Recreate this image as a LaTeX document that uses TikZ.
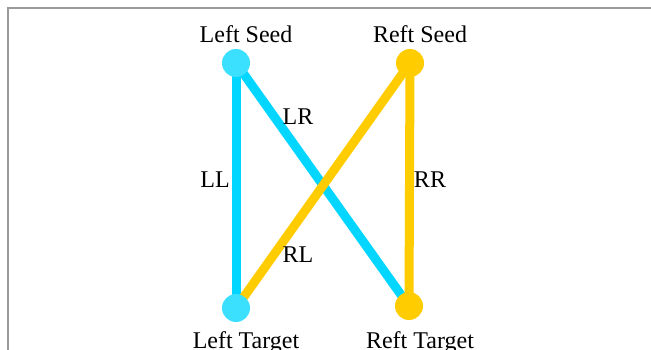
\documentclass[tikz,border=0pt]{standalone}
\usepackage{fontspec}
\setmainfont{Liberation Serif}
\definecolor{cyanline}{HTML}{00D6FF}
\definecolor{cyandot}{HTML}{3CE0FF}
\definecolor{gold}{HTML}{FFCC00}
\definecolor{framegray}{HTML}{9A9A9A}
\begin{document}
\begin{tikzpicture}[x=1pt,y=-1pt,
  dotc/.style={circle,fill=cyandot,minimum size=28pt,inner sep=0pt},
  dotg/.style={circle,fill=gold,minimum size=28pt,inner sep=0pt},
  cyanedge/.style={draw=cyanline,line width=9pt},
  goldedge/.style={draw=gold,line width=9pt},
  lbl/.style={font=\fontsize{24}{24}\selectfont,inner sep=0pt,anchor=base}]
\useasboundingbox (0,0) rectangle (651,350);
\fill[white] (0,0) rectangle (651,350);
\draw[framegray,line width=1.5pt] (8,350) -- (8,8) -- (651,8);
% coordinates of node centres
\coordinate (ls) at (236,63);
\coordinate (rs) at (410,63);
\coordinate (lt) at (236,308);
\coordinate (rt) at (409,306);
% edges
\draw[cyanedge] (ls) -- (lt);
\draw[cyanedge] (ls) -- (rt);
\draw[goldedge] (rs) -- (rt);
\draw[goldedge] (rs) -- (lt);
% dots
\node[dotc] (LS) at (ls) {};
\node[dotg] (RS) at (rs) {};
\node[dotc] (LT) at (lt) {};
\node[dotg] (RT) at (rt) {};
% node labels
\node[lbl] (tLS) at (246,43) {Left Seed};
\node[lbl] (tRS) at (420,43) {Reft Seed};
\node[lbl] (tLT) at (246,348) {Left Target};
\node[lbl] (tRT) at (420,348) {Reft Target};
% edge labels
\node[lbl] (eLL) at (215,188) {LL};
\node[lbl] (eLR) at (298,125) {LR};
\node[lbl] (eRR) at (430,188) {RR};
\node[lbl] (eRL) at (298,262) {RL};
\end{tikzpicture}
\end{document}
